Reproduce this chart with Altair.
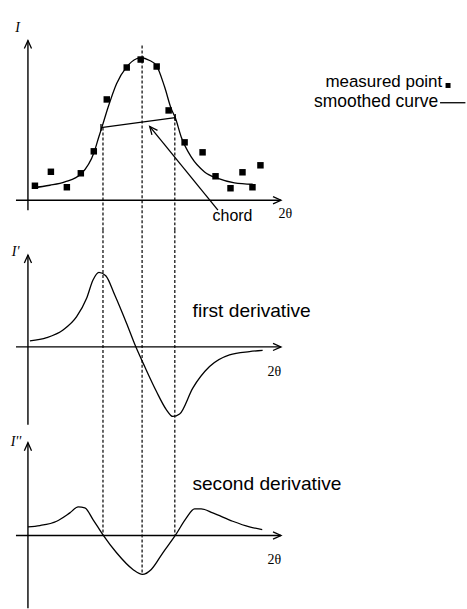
import math
import altair as alt
import pandas as pd

# ---------------- data ----------------
# shared horizontal axis: 2θ (arbitrary units)
X_DOMAIN = [-7.0, 109.75]
PANEL_W = 467

# top panel: measured intensity I and the smoothed profile
meas_x = [1.75, 5.75, 9.75, 13.25, 16.5, 19.75, 24.75, 28.25, 32.25, 35.25,
          39.25, 43.75, 47.0, 50.75, 53.75, 56.25, 58.25]
meas_i = [7.25, 14.25, 6.5, 13.5, 24.5, 50.5, 66.5, 70.5, 67.0, 45.0,
          29.0, 24.0, 12.0, 6.0, 14.0, 6.5, 17.5]

smooth_x = [1.1, 5.5, 9.25, 13.4, 16.6, 17.75, 18.6, 20.1, 22.2, 24.7, 27.2, 28.4,
            30.5, 32.2, 34.25, 35.9, 36.9, 38.4, 40.9, 44.25, 47.6, 51.75, 56.3]
smooth_i = [6.2, 7.5, 9.2, 13.4, 24.2, 31.7, 37.0, 46.7, 58.4, 66.7, 70.9, 71.4,
            70.0, 67.5, 56.7, 45.8, 41.4, 31.7, 21.7, 14.2, 10.9, 8.7, 8.0]

# chord between the two inflection points, and its pointer
chord_x = [18.3, 36.9]
chord_i = [36.4, 41.4]
pointer_tail = (47.6, -5.0)
pointer_head = (30.5, 37.0)

# middle panel: first derivative I'
d1_x = [0.5, 4.7, 8.8, 12.2, 14.7, 16.3, 17.8, 19.5, 21.75, 24.7, 27.0,
        29.25, 32.2, 34.7, 36.3, 38.0, 41.3, 45.5, 50.5, 55.5, 58.8]
d1_y = [3.0, 4.65, 8.5, 15.15, 24.35, 33.5, 37.35, 35.65, 26.0, 11.85, 0.15,
        -9.85, -22.35, -31.5, -34.85, -33.65, -20.65, -9.85, -4.0, -2.35, -1.75]

# bottom panel: second derivative I''
d2_x = [0.0, 3.0, 7.2, 10.5, 12.6, 14.25, 16.3, 18.8, 22.2, 26.3, 28.7,
        30.9, 33.8, 37.0, 39.7, 41.75, 43.4, 46.3, 51.3, 55.5, 58.7]
d2_y = [4.35, 5.0, 7.15, 11.35, 14.35, 13.85, 8.0, 0.3, -8.65, -17.0, -19.5,
        -17.0, -8.65, 0.3, 8.85, 13.35, 13.35, 11.35, 7.15, 4.35, 3.0]

# guide positions: left inflection, peak, right inflection
guide_x = [18.8, 28.6, 36.8]

# ---------------- panel geometry ----------------
TOP_H, MID_H, BOT_H = 230, 190, 189
TOP_DOM = [-15.0, 100.0]
MID_DOM = [-36.5, 58.5]
BOT_DOM = [-36.5, 58.0]

SANS = "Liberation Sans"
SERIF = "Liberation Serif"
LW = 1.3
UP_HEAD = "M-0.9,2L0,0L0.9,2"
RIGHT_HEAD = "M-2,-0.9L0,0L-2,0.9"
X_AXIS_FROM, X_AXIS_TIP = -3.0, 63.4


def xenc(field="x"):
    return alt.X(f"{field}:Q", scale=alt.Scale(domain=X_DOMAIN, nice=False, zero=False), axis=None)


def yenc(dom, field="y"):
    return alt.Y(f"{field}:Q", scale=alt.Scale(domain=dom, nice=False, zero=False), axis=None)


def segments(dom, rows, dash=None, width=LW):
    df = pd.DataFrame(rows, columns=["x", "y", "x2", "y2"])
    kw = dict(color="black", strokeWidth=width)
    if dash:
        kw["strokeDash"] = dash
    return alt.Chart(df).mark_rule(**kw).encode(
        x=xenc(), y=yenc(dom), x2="x2:Q", y2="y2:Q")


def heads(dom, rows, shape, size=64):
    df = pd.DataFrame(rows, columns=["x", "y", "angle"])
    return alt.Chart(df).mark_point(
        shape=shape, filled=False, color="black", strokeWidth=LW, size=size, opacity=1
    ).encode(x=xenc(), y=yenc(dom), angle=alt.Angle("angle:Q", scale=None))


def label(dom, x, y, text, font=SANS, size=18.5, align="left", style="normal"):
    df = pd.DataFrame({"x": [x], "y": [y], "t": [text]})
    return alt.Chart(df).mark_text(
        align=align, baseline="alphabetic", font=font, fontSize=size,
        fontStyle=style, color="black"
    ).encode(x=xenc(), y=yenc(dom), text="t:N")


def curve(dom, xs, ys):
    df = pd.DataFrame({"x": xs, "y": ys})
    return alt.Chart(df).mark_line(
        interpolate="monotone", color="black", strokeWidth=LW
    ).encode(x=xenc(), y=yenc(dom))


def axes(dom, y_from, y_tip, name, name_xy, two_theta_xy):
    return [
        segments(dom, [[0, y_from, 0, y_tip],
                       [X_AXIS_FROM, 0, X_AXIS_TIP, 0]], width=1.4),
        heads(dom, [[0, y_tip, 0]], UP_HEAD),
        heads(dom, [[X_AXIS_TIP, 0, 0]], RIGHT_HEAD),
        label(dom, name_xy[0], name_xy[1], name, font=SERIF, size=14,
              align="center", style="italic"),
        label(dom, two_theta_xy[0], two_theta_xy[1], "2θ", font=SERIF, size=14,
              align="center"),
    ]


# pointer direction on screen (px per unit taken from the scale ranges)
px_dx = (pointer_head[0] - pointer_tail[0]) * PANEL_W / (X_DOMAIN[1] - X_DOMAIN[0])
px_dy = -(pointer_head[1] - pointer_tail[1]) * TOP_H / (TOP_DOM[1] - TOP_DOM[0])
pointer_angle = math.degrees(math.atan2(px_dx, -px_dy)) % 360

# ---------------- top panel ----------------
top_layers = axes(TOP_DOM, -5.0, 80.0, "I", (-2.6, 84.5), (64.5, -9.0)) + [
    segments(TOP_DOM, [[guide_x[0], chord_i[0], guide_x[0], TOP_DOM[0]],
                       [guide_x[1], 77.5, guide_x[1], TOP_DOM[0]],
                       [guide_x[2], chord_i[1], guide_x[2], TOP_DOM[0]]],
             dash=[3, 2], width=1.2),
    curve(TOP_DOM, smooth_x, smooth_i),
    alt.Chart(pd.DataFrame({"x": meas_x, "y": meas_i})).mark_square(
        size=42, color="black", opacity=1).encode(x=xenc(), y=yenc(TOP_DOM)),
    segments(TOP_DOM, [[chord_x[0], chord_i[0], chord_x[1], chord_i[1]],
                       [pointer_tail[0], pointer_tail[1], pointer_head[0], pointer_head[1]]]),
    heads(TOP_DOM, [[chord_x[0], chord_i[0], 0], [chord_x[1], chord_i[1], 0]],
          "M0,-1L0,1", size=49),
    heads(TOP_DOM, [[pointer_head[0], pointer_head[1], pointer_angle]], UP_HEAD),
    label(TOP_DOM, 46.25, -10.5, "chord", size=16),
    # legend
    label(TOP_DOM, 103.8, 56.5, "measured point", size=17, align="right"),
    alt.Chart(pd.DataFrame({"x": [105.25], "y": [57.5]})).mark_square(
        size=25, color="black", opacity=1).encode(x=xenc(), y=yenc(TOP_DOM)),
    label(TOP_DOM, 102.8, 46.5, "smoothed curve", size=17.5, align="right"),
    segments(TOP_DOM, [[103.25, 48.85, 109.6, 48.85]]),
]
top = alt.layer(*top_layers).properties(width=PANEL_W, height=TOP_H)

# ---------------- middle panel ----------------
mid_layers = axes(MID_DOM, -39.0, 46.0, "I'", (-3.1, 45.5), (61.75, -14.5)) + [
    segments(MID_DOM, [[gx, MID_DOM[1], gx, MID_DOM[0]] for gx in guide_x],
             dash=[3, 2], width=1.2),
    curve(MID_DOM, d1_x, d1_y),
    label(MID_DOM, 41.25, 14.85, "first derivative", size=19.2),
]
mid = alt.layer(*mid_layers).properties(width=PANEL_W, height=MID_H)

# ---------------- bottom panel ----------------
bot_layers = axes(BOT_DOM, -36.5, 46.5, "I''", (-3.0, 45.0), (61.75, -14.5)) + [
    segments(BOT_DOM, [[guide_x[0], BOT_DOM[1], guide_x[0], 0.0],
                       [guide_x[1], BOT_DOM[1], guide_x[1], -19.5],
                       [guide_x[2], BOT_DOM[1], guide_x[2], 0.0]],
             dash=[3, 2], width=1.2),
    curve(BOT_DOM, d2_x, d2_y),
    label(BOT_DOM, 41.2, 23.0, "second derivative", size=19.2),
]
bot = alt.layer(*bot_layers).properties(width=PANEL_W, height=BOT_H)

chart = alt.vconcat(top, mid, bot, spacing=0, bounds="flush").properties(
    padding=0, background="white"
).configure_view(stroke=None)

chart.save("out.html", embed_options={"renderer": "svg", "actions": False})
